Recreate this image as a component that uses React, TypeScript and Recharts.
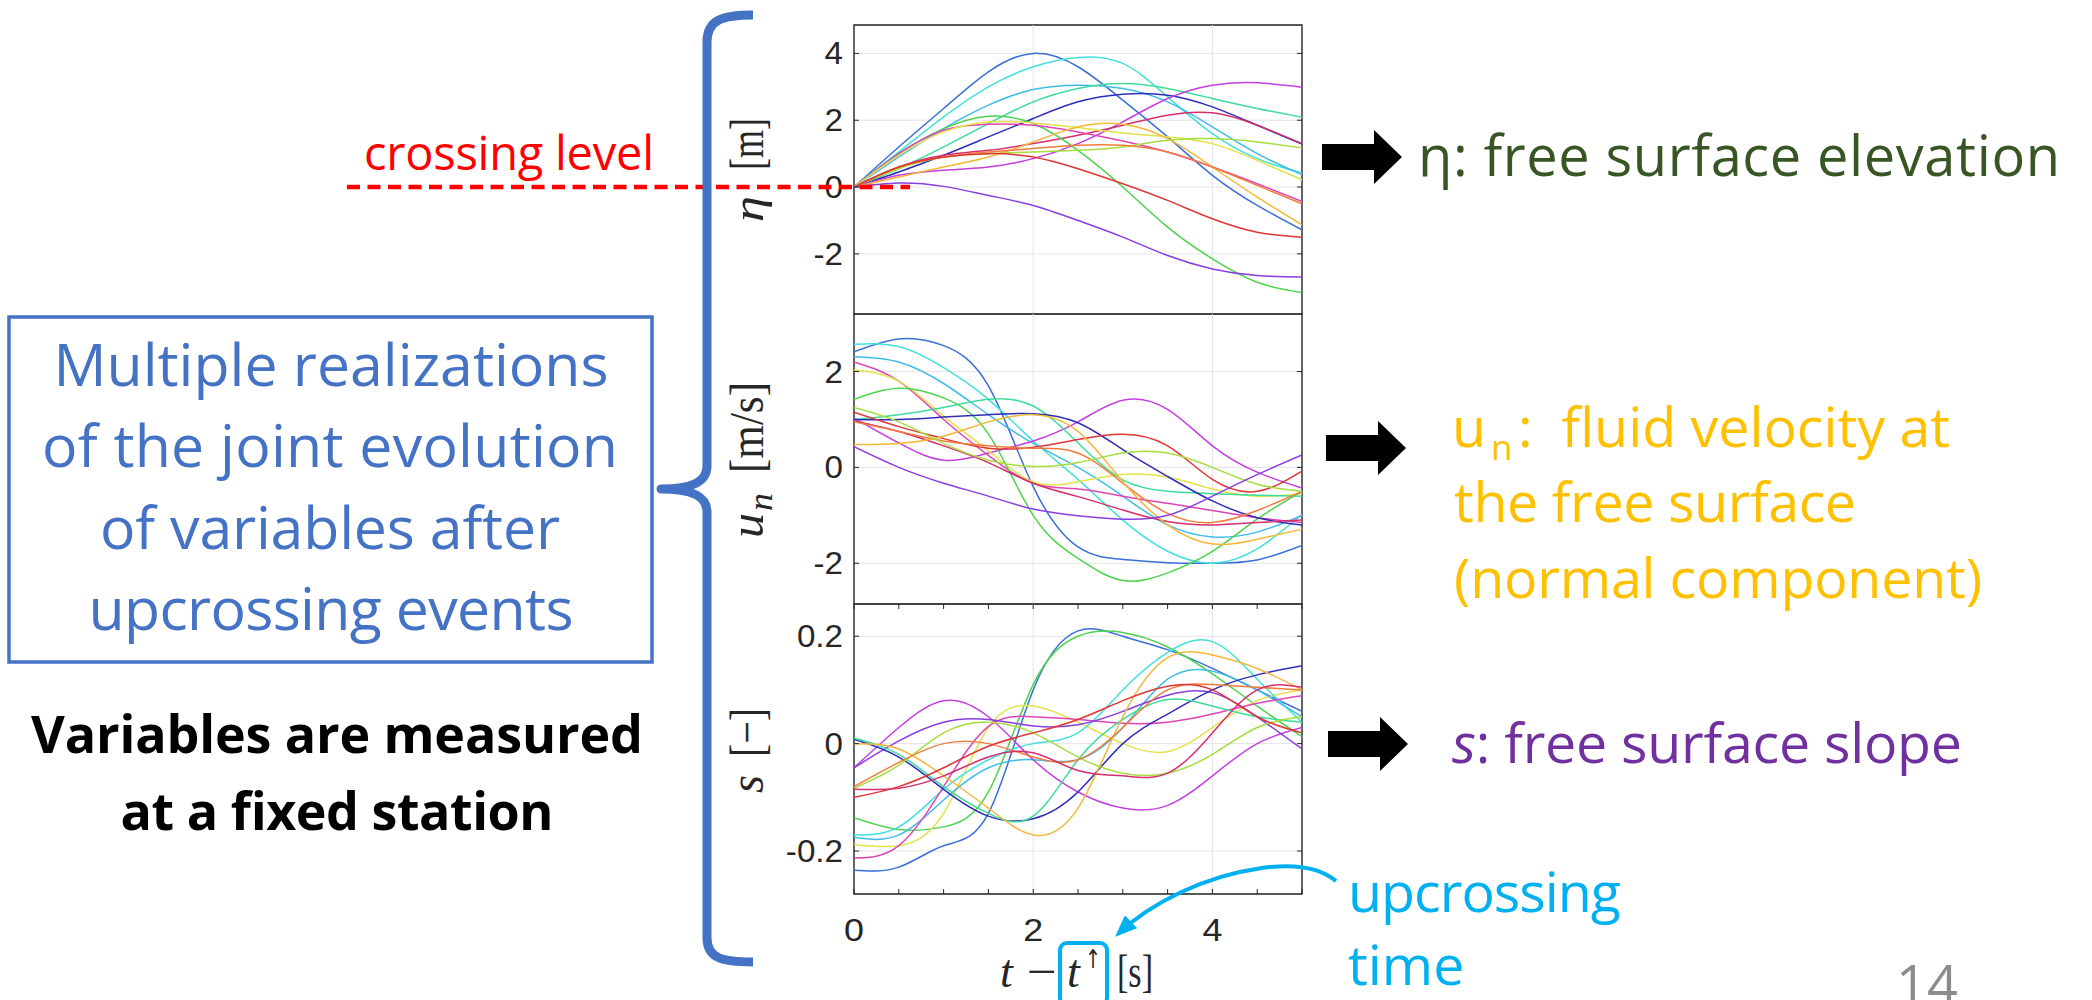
import React from 'react';
import { LineChart, Line, XAxis, YAxis, CartesianGrid, ReferenceLine, ReferenceArea } from 'recharts';

// ---------- data ----------
const T_VALUES = [0, 0.5, 1, 1.5, 2, 2.5, 3, 3.5, 4, 4.5, 5];
const X_TICKS = [0, 0.5, 1, 1.5, 2, 2.5, 3, 3.5, 4, 4.5, 5];
const X_TICK_LABELS = [0, 2, 4];
const X_GRID = [2, 4];

// eta [m]
const etaBlue = [0, 1.2, 2.35, 3.45, 4.0, 3.6, 2.6, 1.5, 0.35, -0.55, -1.28];
const etaCyanL = [0, 1.05, 2.1, 3.0, 3.6, 3.88, 3.7, 2.7, 1.6, 0.85, 0.42];
const etaCyanM = [0, 0.9, 1.75, 2.45, 2.92, 3.05, 2.95, 2.55, 1.8, 1.0, 0.37];
const etaTeal = [0, 0.55, 1.2, 1.9, 2.55, 2.95, 3.1, 2.95, 2.65, 2.35, 2.09];
const etaNavy = [0, 0.45, 0.95, 1.5, 2.05, 2.55, 2.78, 2.75, 2.4, 1.85, 1.29];
const etaMagenta = [0, 0.35, 0.5, 0.6, 0.85, 1.3, 1.95, 2.65, 3.05, 3.12, 2.99];
const etaCrimson = [0, 0.6, 0.95, 1.1, 1.3, 1.55, 1.85, 2.15, 2.22, 1.85, 1.3];
const etaGreen = [0, 1.0, 1.75, 2.12, 1.9, 1.1, 0.0, -1.2, -2.15, -2.85, -3.16];
const etaPink = [0, 1.0, 1.7, 1.88, 1.85, 1.65, 1.38, 1.05, 0.6, 0.1, -0.43];
const etaYellow = [0, 0.95, 1.65, 1.95, 1.92, 1.78, 1.62, 1.5, 1.3, 0.8, 0.22];
const etaLime = [0, 0.55, 0.9, 1.0, 1.05, 1.1, 1.2, 1.4, 1.45, 1.35, 1.17];
const etaGold = [0, 0.3, 0.6, 0.9, 1.35, 1.8, 1.88, 1.45, 0.6, -0.3, -1.13];
const etaOrange = [0, 0.6, 0.9, 1.05, 1.15, 1.25, 1.25, 1.05, 0.6, 0.05, -0.5];
const etaRed = [0, 0.6, 0.9, 1.0, 0.9, 0.55, 0.1, -0.4, -0.95, -1.35, -1.5];
const etaPurple = [0, 0.12, 0.02, -0.25, -0.55, -1.0, -1.5, -2.05, -2.45, -2.65, -2.69];

// u_n [m/s]
const unBlue = [2.41, 2.68, 2.54, 1.7, -0.4, -1.66, -1.92, -1.99, -2.0, -1.93, -1.63];
const unCyanL = [2.57, 2.52, 2.08, 1.42, 0.55, -0.25, -1.1, -1.75, -2.0, -1.7, -0.98];
const unCyanM = [2.31, 2.2, 1.75, 1.1, 0.5, 0.0, -0.6, -1.2, -1.45, -1.35, -1.0];
const unMagenta = [1.03, 0.51, 0.15, 0.3, 0.55, 0.95, 1.4, 1.21, 0.45, -0.1, -0.43];
const unPink = [2.2, 1.8, 1.0, 0.25, -0.33, -0.45, -0.6, -0.75, -0.9, -1.05, -1.15];
const unYellow = [2.03, 1.8, 1.07, 0.35, -0.3, -0.3, -0.15, -0.2, -0.45, -0.6, -0.55];
const unGreen = [1.42, 1.65, 1.45, 0.7, -1.0, -1.9, -2.36, -2.2, -1.75, -1.08, -0.5];
const unTeal = [1.0, 1.1, 1.25, 1.42, 1.28, 0.51, -0.26, -0.5, -0.55, -0.58, -0.6];
const unNavy = [1.0, 1.0, 1.05, 1.1, 1.12, 0.93, 0.37, -0.19, -0.7, -1.05, -1.2];
const unRed = [1.15, 0.85, 0.6, 0.4, 0.42, 0.58, 0.69, 0.45, -0.25, -0.5, -0.08];
const unCrimson = [0.97, 0.75, 0.45, 0.1, -0.33, -0.61, -0.89, -1.13, -1.2, -1.15, -1.1];
const unOrange = [0.95, 0.75, 0.55, 0.45, 0.4, 0.3, -0.33, -0.96, -1.15, -0.9, -0.5];
const unGold = [0.48, 0.5, 0.65, 0.95, 1.1, 0.75, -0.3, -1.2, -1.6, -1.5, -1.29];
const unLime = [1.25, 0.95, 0.5, 0.15, 0.02, 0.1, 0.3, 0.3, 0.0, -0.35, -0.5];
const unPurple = [0.43, 0.0, -0.33, -0.6, -0.87, -1.01, -1.08, -1.0, -0.6, -0.15, 0.26];

// s [-]
const sBlue = [-0.236, -0.23, -0.19, -0.13, 0.1, 0.21, 0.2, 0.175, 0.14, 0.1, 0.06];
const sGreen = [-0.138, -0.16, -0.155, -0.09, 0.11, 0.2, 0.207, 0.18, 0.13, 0.07, 0.013];
const sYellow = [-0.188, -0.19, -0.13, 0.03, 0.07, 0.04, 0.0, -0.015, 0.03, 0.08, 0.1];
const sCyanL = [-0.17, -0.155, -0.085, -0.03, 0.0, 0.02, 0.1, 0.17, 0.19, 0.12, 0.04];
const sCyanM = [-0.175, -0.17, -0.105, -0.045, -0.03, -0.03, 0.03, 0.12, 0.135, 0.1, 0.05];
const sPink = [-0.213, -0.19, -0.08, 0.032, 0.05, 0.045, 0.038, 0.04, 0.055, 0.075, 0.089];
const sMagenta = [-0.045, 0.03, 0.08, 0.05, -0.03, -0.09, -0.12, -0.115, -0.06, 0.0, 0.03];
const sPurple = [-0.045, 0.005, 0.04, 0.045, 0.033, 0.035, 0.06, 0.09, 0.095, 0.05, -0.01];
const sNavy = [0.008, -0.025, -0.085, -0.135, -0.14, -0.09, 0.0, 0.055, 0.1, 0.128, 0.145];
const sTeal = [0.01, -0.02, -0.08, -0.13, -0.135, -0.03, 0.045, 0.082, 0.07, 0.05, 0.04];
const sGold = [0.0, -0.01, -0.06, -0.12, -0.17, -0.12, 0.05, 0.16, 0.165, 0.14, 0.1];
const sLime = [-0.083, -0.04, 0.02, 0.04, 0.02, -0.025, -0.055, -0.055, -0.02, 0.03, 0.05];
const sOrange = [-0.08, -0.035, 0.0, 0.0, -0.025, -0.03, 0.03, 0.1, 0.11, 0.105, 0.1];
const sRed = [-0.1, -0.08, -0.045, -0.005, 0.02, 0.045, 0.08, 0.107, 0.1, 0.05, 0.02];
const sCrimson = [-0.085, -0.083, -0.06, -0.025, -0.017, -0.05, -0.06, -0.055, 0.02, 0.1, 0.105];

const ETA_DOMAIN = [-3.8, 4.85];
const ETA_TICKS = [-2, 0, 2, 4];
const UN_DOMAIN = [-2.85, 3.2];
const UN_TICKS = [-2, 0, 2];
const S_DOMAIN = [-0.28, 0.26];
const S_TICKS = [-0.2, 0, 0.2];

const COLORS: Record<string, string> = {
  blue: '#3a6fd8',
  cyanL: '#44e0dc',
  cyanM: '#3fbce8',
  teal: '#3ddc9a',
  green: '#4cd44c',
  lime: '#a5de3d',
  yellow: '#e3e348',
  gold: '#f3b73a',
  orange: '#f07c3c',
  red: '#e03636',
  crimson: '#d42f6e',
  pink: '#e045b8',
  magenta: '#c43fdf',
  purple: '#8a3de0',
  navy: '#2d2db8',
};

const ETA_SERIES: [string, number[]][] = [
  ['blue', etaBlue], ['cyanL', etaCyanL], ['cyanM', etaCyanM], ['teal', etaTeal], ['navy', etaNavy],
  ['magenta', etaMagenta], ['crimson', etaCrimson], ['green', etaGreen], ['pink', etaPink], ['yellow', etaYellow],
  ['lime', etaLime], ['gold', etaGold], ['orange', etaOrange], ['red', etaRed], ['purple', etaPurple],
];
const UN_SERIES: [string, number[]][] = [
  ['blue', unBlue], ['cyanL', unCyanL], ['cyanM', unCyanM], ['magenta', unMagenta], ['pink', unPink],
  ['yellow', unYellow], ['green', unGreen], ['teal', unTeal], ['navy', unNavy], ['red', unRed],
  ['crimson', unCrimson], ['orange', unOrange], ['gold', unGold], ['lime', unLime], ['purple', unPurple],
];
const S_SERIES: [string, number[]][] = [
  ['blue', sBlue], ['green', sGreen], ['yellow', sYellow], ['cyanL', sCyanL], ['cyanM', sCyanM],
  ['pink', sPink], ['magenta', sMagenta], ['purple', sPurple], ['navy', sNavy], ['teal', sTeal],
  ['gold', sGold], ['lime', sLime], ['orange', sOrange], ['red', sRed], ['crimson', sCrimson],
];

// ---------- layout ----------
const PLOT_LEFT = 854;
const PLOT_W = 448;
const Y_AXIS_W = 95;
const M = 6;
const AX = '#262626';
const GRID = '#e4e4e4';
const TICK_LEN = 5;
const SANS_TICK = "'Liberation Sans', Arial, Helvetica, sans-serif";
const MATH = "'Liberation Serif', 'DejaVu Serif', 'Times New Roman', serif";
const OFFICE = "'Open Sans', 'Noto Sans', sans-serif";

function buildRows(series: [string, number[]][]) {
  return T_VALUES.map((t, i) => {
    const row: Record<string, number> = { t };
    series.forEach(([k, v]) => {
      row[k] = v[i];
    });
    return row;
  });
}

type PanelProps = {
  series: [string, number[]][];
  domain: number[];
  ticks: number[];
  plotTop: number;
  plotH: number;
  labels: boolean;
  fmt: (v: number) => string;
};

function Panel({ series, domain, ticks, plotTop, plotH, labels, fmt }: PanelProps) {
  const rows = buildRows(series);
  const xh = labels ? 70 : 0;
  const height = M + plotH + xh + M;
  const width = M + Y_AXIS_W + PLOT_W + M;

  const yTick = (p: any) => {
    const { x, y, payload } = p;
    return (
      <g>
        <line x1={x} x2={x + TICK_LEN} y1={y} y2={y} stroke={AX} strokeWidth={1} />
        <line x1={x + PLOT_W} x2={x + PLOT_W - TICK_LEN} y1={y} y2={y} stroke={AX} strokeWidth={1} />
        <text
          transform={`translate(${x - 11},${y + 11}) scale(1.07,1)`}
          textAnchor="end"
          fontFamily={SANS_TICK}
          fontSize={31}
          fill={AX}
        >
          {fmt(payload.value)}
        </text>
      </g>
    );
  };

  const xTick = (p: any) => {
    const { x, y, payload } = p;
    const v = payload.value;
    return (
      <g>
        <line x1={x} x2={x} y1={y} y2={y - TICK_LEN} stroke={AX} strokeWidth={1} />
        <line x1={x} x2={x} y1={y - plotH} y2={y - plotH + TICK_LEN} stroke={AX} strokeWidth={1} />
        {labels && X_TICK_LABELS.includes(v) ? (
          <text
            transform={`translate(${x},${y + 47}) scale(1.12,1)`}
            textAnchor="middle"
            fontFamily={SANS_TICK}
            fontSize={32}
            fill={AX}
          >
            {String(v)}
          </text>
        ) : null}
      </g>
    );
  };

  return (
    <div style={{ position: 'absolute', left: PLOT_LEFT - Y_AXIS_W - M, top: plotTop - M }}>
      <LineChart width={width} height={height} data={rows} margin={{ top: M, right: M, bottom: M, left: M }}>
        <CartesianGrid vertical={false} stroke={GRID} strokeWidth={1} />
        {X_GRID.map((gx) => (
          <ReferenceLine key={gx} x={gx} stroke={GRID} strokeWidth={1} />
        ))}
        <XAxis
          dataKey="t"
          type="number"
          domain={[0, 5]}
          ticks={X_TICKS}
          interval={0}
          height={xh}
          axisLine={false}
          tickLine={false}
          tickSize={0}
          tickMargin={0}
          tick={xTick}
          allowDataOverflow
        />
        <YAxis
          type="number"
          domain={domain}
          ticks={ticks}
          interval={0}
          width={Y_AXIS_W}
          axisLine={false}
          tickLine={false}
          tickSize={0}
          tickMargin={0}
          tick={yTick}
          allowDataOverflow
        />
        {series.map(([k]) => (
          <Line
            key={k}
            dataKey={k}
            type="natural"
            stroke={COLORS[k]}
            strokeWidth={1.5}
            dot={false}
            activeDot={false}
            isAnimationActive={false}
          />
        ))}
        <ReferenceArea x1={0} x2={5} y1={domain[0]} y2={domain[1]} fill="none" fillOpacity={0} stroke={AX} strokeWidth={1.4} />
      </LineChart>
    </div>
  );
}

const blockArrow = (x0: number, yc: number) =>
  `${x0},${yc - 13} ${x0 + 52},${yc - 13} ${x0 + 52},${yc - 27} ${x0 + 80},${yc} ${x0 + 52},${yc + 27} ${x0 + 52},${yc + 13} ${x0},${yc + 13}`;

const fmtInt = (v: number) => String(v);
const fmtS = (v: number) => (v === 0 ? '0' : v.toFixed(1));

export default function App() {
  return (
    <div
      style={{
        position: 'absolute',
        left: 0,
        top: 0,
        width: 2092,
        height: 1000,
        background: '#ffffff',
        overflow: 'hidden',
      }}
    >
      <Panel series={ETA_SERIES} domain={ETA_DOMAIN} ticks={ETA_TICKS} plotTop={25} plotH={289} labels={false} fmt={fmtInt} />
      <Panel series={UN_SERIES} domain={UN_DOMAIN} ticks={UN_TICKS} plotTop={314} plotH={290} labels={false} fmt={fmtInt} />
      <Panel series={S_SERIES} domain={S_DOMAIN} ticks={S_TICKS} plotTop={604} plotH={290} labels={true} fmt={fmtS} />

      <svg width={2092} height={1000} style={{ position: 'absolute', left: 0, top: 0, pointerEvents: 'none' }}>
        <defs>
          <marker id="cyanHead" markerUnits="userSpaceOnUse" markerWidth={22} markerHeight={18} viewBox="0 0 22 18" refX={18} refY={9} orient="auto">
            <path d="M0,0 L22,9 L0,18 z" fill="#00B0F0" />
          </marker>
        </defs>

        {/* axis labels (rotated) */}
        <g transform="translate(763,172) rotate(-90)" fontFamily={MATH} fill={AX}>
          <text x={-50} y={0} fontSize={44} fontStyle="italic" textLength={26} lengthAdjust="spacingAndGlyphs">η</text>
          <text x={2} y={0} fontSize={48} textLength={52} lengthAdjust="spacingAndGlyphs">[m]</text>
        </g>
        <g transform="translate(763,460) rotate(-90)" fontFamily={MATH} fill={AX}>
          <text x={-78} y={0} fontSize={48} fontStyle="italic" textLength={25} lengthAdjust="spacingAndGlyphs">u</text>
          <text x={-51} y={9} fontSize={34} fontStyle="italic" textLength={18} lengthAdjust="spacingAndGlyphs">n</text>
          <text x={-13} y={0} fontSize={48} textLength={91} lengthAdjust="spacingAndGlyphs">[m/s]</text>
        </g>
        <g transform="translate(763,750) rotate(-90)" fontFamily={MATH} fill={AX}>
          <text x={-43} y={0} fontSize={48} fontStyle="italic" textLength={18} lengthAdjust="spacingAndGlyphs">s</text>
          <text x={-7} y={0} fontSize={48} textLength={49} lengthAdjust="spacingAndGlyphs">[−]</text>
        </g>

        {/* x label */}
        <g fontFamily={MATH} fill={AX} fontSize={46}>
          <text x={1000} y={987} fontStyle="italic">t</text>
          <text x={1027} y={987} textLength={30} lengthAdjust="spacingAndGlyphs">−</text>
          <text x={1067} y={987} fontStyle="italic">t</text>
          <text x={1085} y={968} fontSize={26} fontFamily="'DejaVu Sans', sans-serif" textLength={16} lengthAdjust="spacingAndGlyphs">↑</text>
          <text x={1117} y={987} textLength={36} lengthAdjust="spacingAndGlyphs">[s]</text>
        </g>
        <rect x={1060} y={943} width={47} height={62} rx={7} ry={7} fill="none" stroke="#00B0F0" strokeWidth={4} />

        {/* crossing level */}
        <line x1={347} x2={910} y1={187} y2={187} stroke="#FF0000" strokeWidth={4.5} strokeDasharray="13 7.5" />
        <text x={364} y={170} fontFamily={OFFICE} fontSize={47} fill="#FF0000" textLength={290} lengthAdjust="spacing">
          crossing level
        </text>

        {/* brace */}
        <path
          d="M 753 15 C 722 15 707 20 707 42 L 707 466 C 707 482 692 489 661 489 C 692 489 707 496 707 512 L 707 938 C 707 958 722 962 753 962"
          fill="none"
          stroke="#4472C4"
          strokeWidth={9}
          strokeLinejoin="round"
        />

        {/* left box */}
        <rect x={9} y={317} width={643} height={345} fill="none" stroke="#4472C4" strokeWidth={3.5} />
        <g fontFamily={OFFICE} fontSize={59} fill="#4472C4" textAnchor="middle">
          <text x={331} y={386} textLength={555} lengthAdjust="spacing">Multiple realizations</text>
          <text x={330} y={467} textLength={576} lengthAdjust="spacing">of the joint evolution</text>
          <text x={330} y={549} textLength={460} lengthAdjust="spacing">of variables after</text>
          <text x={331} y={630} textLength={485} lengthAdjust="spacing">upcrossing events</text>
        </g>
        <g fontFamily={OFFICE} fontSize={52} fontWeight={700} fill="#000000" textAnchor="middle">
          <text x={337} y={753} textLength={612} lengthAdjust="spacing">Variables are measured</text>
          <text x={337} y={830} textLength={433} lengthAdjust="spacing">at a fixed station</text>
        </g>

        {/* right side */}
        <polygon points={blockArrow(1322, 157)} fill="#000000" />
        <polygon points={blockArrow(1326, 448)} fill="#000000" />
        <polygon points={blockArrow(1328, 744)} fill="#000000" />

        <text x={1418} y={176} fontFamily={OFFICE} fontSize={56} fill="#375623" textLength={642} lengthAdjust="spacing">
          η: free surface elevation
        </text>
        <g fontFamily={OFFICE} fill="#FFC000">
          <text x={1452} y={447} fontSize={55.5}>u</text>
          <text x={1491} y={460} fontSize={35}>n</text>
          <text x={1518} y={447} fontSize={55.5} style={{ whiteSpace: 'pre' }}>:  fluid velocity at</text>
          <text x={1454} y={522} fontSize={55.5} textLength={402} lengthAdjust="spacing">the free surface</text>
          <text x={1454} y={598} fontSize={55.5} textLength={528} lengthAdjust="spacing">(normal component)</text>
        </g>
        <text x={1452} y={763} fontFamily={OFFICE} fontSize={55.5} fill="#7030A0" textLength={510} lengthAdjust="spacing">
          <tspan fontStyle="italic">s</tspan>: free surface slope
        </text>

        <path
          d="M 1336 881 C 1318 866 1290 864 1262 868 C 1205 876 1152 902 1118 934"
          fill="none"
          stroke="#00B0F0"
          strokeWidth={4}
          markerEnd="url(#cyanHead)"
        />
        <g fontFamily={OFFICE} fontSize={55.5} fill="#00B0F0">
          <text x={1348} y={912} textLength={273} lengthAdjust="spacing">upcrossing</text>
          <text x={1348} y={985}>time</text>
        </g>
        <text x={1896} y={1004} fontFamily={OFFICE} fontSize={54} fill="#8C8C8C">14</text>
      </svg>
    </div>
  );
}
